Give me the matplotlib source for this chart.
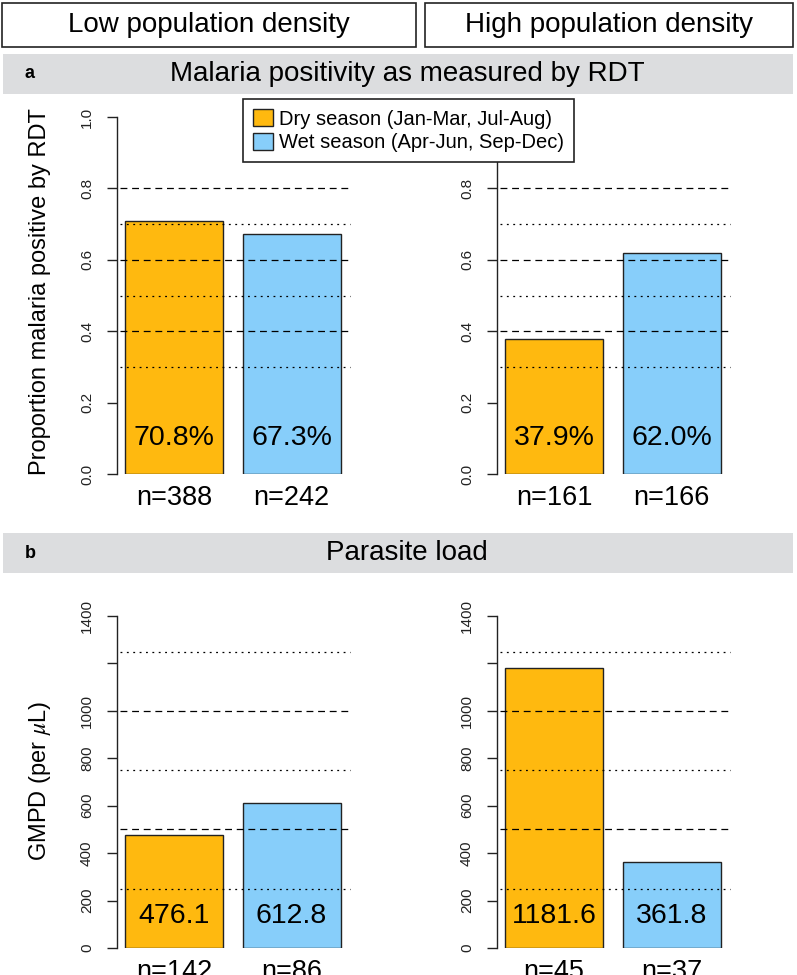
import matplotlib
matplotlib.use("Agg")
import matplotlib.pyplot as plt
from matplotlib.patches import Rectangle, Patch

plt.rcParams['font.family'] = ['Liberation Sans', 'DejaVu Sans']
plt.rcParams['mathtext.fontset'] = 'stix'

# ---------------- data ----------------
seasons = ["Dry season (Jan-Mar, Jul-Aug)", "Wet season (Apr-Jun, Sep-Dec)"]
density_groups = ["Low population density", "High population density"]
colors = ["#FFB90F", "#87CEFA"]

rdt_low = [0.708, 0.673]
rdt_high = [0.379, 0.620]
rdt_low_n = [388, 242]
rdt_high_n = [161, 166]

gmpd_low = [476.1, 612.8]
gmpd_high = [1181.6, 361.8]
gmpd_low_n = [142, 86]
gmpd_high_n = [45, 37]

rdt_ticks = [0.0, 0.2, 0.4, 0.6, 0.8, 1.0]
rdt_ticklabels = ["0.0", "0.2", "0.4", "0.6", "0.8", "1.0"]
rdt_ticklabels_hidden_top = ["0.0", "0.2", "0.4", "0.6", "0.8", ""]
rdt_dashed = [0.4, 0.6, 0.8]
rdt_dotted = [0.3, 0.5, 0.7]

gmpd_ticks = [0, 200, 400, 600, 800, 1000, 1200, 1400]
gmpd_ticklabels = ["0", "200", "400", "600", "800", "1000", "", "1400"]
gmpd_dashed = [500, 1000]
gmpd_dotted = [250, 750, 1250]

# ---------------- layout helpers ----------------
W, H = 797, 975
fig = plt.figure(figsize=(W / 100, H / 100), dpi=100)


def rect(x0, ytop, x1, ybot):
    return [x0 / W, 1 - ybot / H, (x1 - x0) / W, (ybot - ytop) / H]


def fx(x):
    return x / W


def fy(y):
    return 1 - y / H


DASHED = (0, (5.5, 3.8))
DOTTED = (0, (1.5, 3.6))


def panel(ax, values, ns, ymax, ticks, ticklabels, dashed, dotted, lab_fmt, lab_off):
    pos = [0.7, 1.9]
    ax.bar(pos, values, width=1.0, color=colors, edgecolor="#222222",
           linewidth=1.0, zorder=2)
    ax.hlines(dashed, 0.15, 2.5, colors="black", linestyles=DASHED,
              linewidth=0.9, zorder=3)
    ax.hlines(dotted, 0.15, 2.5, colors="black", linestyles=DOTTED,
              linewidth=0.9, zorder=3)
    ax.set_xlim(0.1184, 2.598)
    ax.set_ylim(0, ymax)
    for s in ["top", "right", "bottom"]:
        ax.spines[s].set_visible(False)
    ax.spines["left"].set_bounds(0, ymax)
    ax.spines["left"].set_linewidth(1.0)
    ax.spines["left"].set_color("#222222")
    ax.set_xticks([])
    ax.set_yticks(ticks)
    ax.set_yticklabels(ticklabels, rotation=90, va="center", ha="right",
                       fontsize=11, color="#222222")
    ax.tick_params(axis="y", direction="out", length=7.5, width=1.0,
                   pad=9, color="#222222")
    ax.patch.set_alpha(0)
    for p, v, n in zip(pos, values, ns):
        ax.annotate(lab_fmt(v), xy=(p, 0), xycoords="data",
                    xytext=(0, lab_off), textcoords="offset points",
                    ha="center", va="baseline", fontsize=20.5, zorder=4)
        ax.annotate(f"n={n}", xy=(p, 0), xycoords="data",
                    xytext=(0, -22.5), textcoords="offset points",
                    ha="center", va="baseline", fontsize=19.5,
                    annotation_clip=False)


# header boxes
for (x0, x1), lab in zip([(2, 416), (425, 793)], density_groups):
    fig.patches.append(Rectangle((fx(x0), fy(47)), (x1 - x0) / W, 44 / H,
                                 transform=fig.transFigure, facecolor="white",
                                 edgecolor="#222222", linewidth=1.2))
    fig.text(fx((x0 + x1) / 2), fy(25.5), lab, ha="center", va="center",
             fontsize=20)

# grey section bands
for (ytop, ybot), letter, title in [((54, 94), "a", "Malaria positivity as measured by RDT"),
                                     ((533, 573), "b", "Parasite load")]:
    fig.patches.append(Rectangle((fx(3), fy(ybot)), 790 / W, (ybot - ytop) / H,
                                 transform=fig.transFigure, facecolor="#DCDDDF",
                                 edgecolor="none"))
    fig.text(fx(30), fy((ytop + ybot) / 2), letter, ha="center", va="center",
             fontsize=13, fontweight="bold")
    fig.text(fx(407), fy((ytop + ybot) / 2), title, ha="center", va="center",
             fontsize=20)

pct = lambda v: f"{v * 100:.1f}%"
num = lambda v: f"{v:.1f}"

axa1 = fig.add_axes(rect(117, 117, 360, 474))
panel(axa1, rdt_low, rdt_low_n, 1.0, rdt_ticks, rdt_ticklabels,
      rdt_dashed, rdt_dotted, pct, 21)
axa2 = fig.add_axes(rect(497, 117, 740, 474))
panel(axa2, rdt_high, rdt_high_n, 1.0, rdt_ticks, rdt_ticklabels_hidden_top,
      rdt_dashed, rdt_dotted, pct, 21)
axb1 = fig.add_axes(rect(117, 616, 360, 948))
panel(axb1, gmpd_low, gmpd_low_n, 1400, gmpd_ticks, gmpd_ticklabels,
      gmpd_dashed, gmpd_dotted, num, 18)
axb2 = fig.add_axes(rect(497, 616, 740, 948))
panel(axb2, gmpd_high, gmpd_high_n, 1400, gmpd_ticks, gmpd_ticklabels,
      gmpd_dashed, gmpd_dotted, num, 18)

fig.text(fx(40), fy(292), "Proportion malaria positive by RDT", rotation=90,
         ha="center", va="center", fontsize=17)
fig.text(fx(40), fy(781), r"GMPD (per $\mu$L)", rotation=90,
         ha="center", va="center", fontsize=17)

handles = [Patch(facecolor=c, edgecolor="#222222", linewidth=1.0) for c in colors]
leg = fig.legend(handles, seasons, loc="upper left",
                 bbox_to_anchor=(fx(243), fy(99)), bbox_transform=fig.transFigure,
                 fontsize=14.5, frameon=True, fancybox=False, framealpha=1,
                 edgecolor="#222222", borderaxespad=0, borderpad=0.5,
                 handlelength=1.0, handleheight=0.95, handletextpad=0.3,
                 labelspacing=0.2)
leg.get_frame().set_linewidth(1.2)
leg.set_zorder(10)

fig.savefig("out.png", dpi=100)
